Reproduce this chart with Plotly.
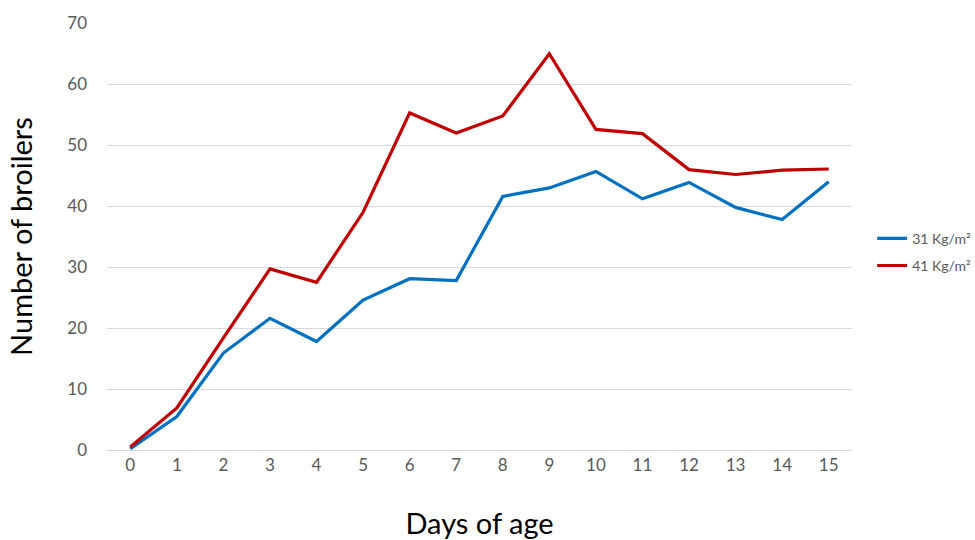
import plotly.graph_objects as go

# Days of age on the category axis
days = [str(d) for d in range(16)]

# Number of broilers per stocking density
broilers_31 = [0.2, 5.5, 15.9, 21.6, 17.8, 24.6, 28.1, 27.8, 41.6, 43.0, 45.7, 41.2, 43.9, 39.8, 37.8, 44.0]
broilers_41 = [0.5, 6.9, 18.4, 29.7, 27.5, 39.0, 55.3, 52.0, 54.8, 65.0, 52.6, 51.9, 46.0, 45.2, 45.9, 46.1]

y_ticks = [0, 10, 20, 30, 40, 50, 60, 70]

FONT = "Lato, 'Open Sans', sans-serif"
TICK_COLOR = "#595959"

fig = go.Figure()
fig.add_trace(go.Scatter(
    x=days, y=broilers_31, mode="lines", name="31 Kg/m²",
    line=dict(color="#0070C0", width=3.2), legendgroup="a",
))
fig.add_trace(go.Scatter(
    x=days, y=broilers_41, mode="lines", name="41 Kg/m²",
    line=dict(color="#C00000", width=3.2), legendgroup="b",
))

fig.update_layout(
    width=975, height=540,
    margin=dict(l=107, r=123, t=23, b=90, autoexpand=False),
    paper_bgcolor="white", plot_bgcolor="white",
    font=dict(family=FONT, color=TICK_COLOR),
    showlegend=True,
    legend=dict(
        xref="container", yref="container",
        x=0.8945, y=0.533, xanchor="left", yanchor="middle",
        font=dict(size=14, color=TICK_COLOR, family=FONT),
        traceorder="grouped", tracegroupgap=6,
        itemwidth=30, bgcolor="rgba(0,0,0,0)",
    ),
    xaxis=dict(
        type="category", range=[-0.5, 15.5],
        showgrid=False, showline=True, linecolor="#d9d9d9", linewidth=1,
        ticks="", tickfont=dict(size=17, color=TICK_COLOR),
        title=dict(text="Days of age", font=dict(size=29, color="black"), standoff=40),
    ),
    yaxis=dict(
        range=[0, 70.05], tickvals=y_ticks,
        showgrid=True, gridcolor="#d9d9d9", gridwidth=1,
        zeroline=False, showline=False, ticks="",
        ticklabelstandoff=19,
        tickfont=dict(size=17, color=TICK_COLOR),
        title=dict(text="Number of broilers", font=dict(size=29, color="black"), standoff=26),
    ),
)

fig.write_html("out.html")
